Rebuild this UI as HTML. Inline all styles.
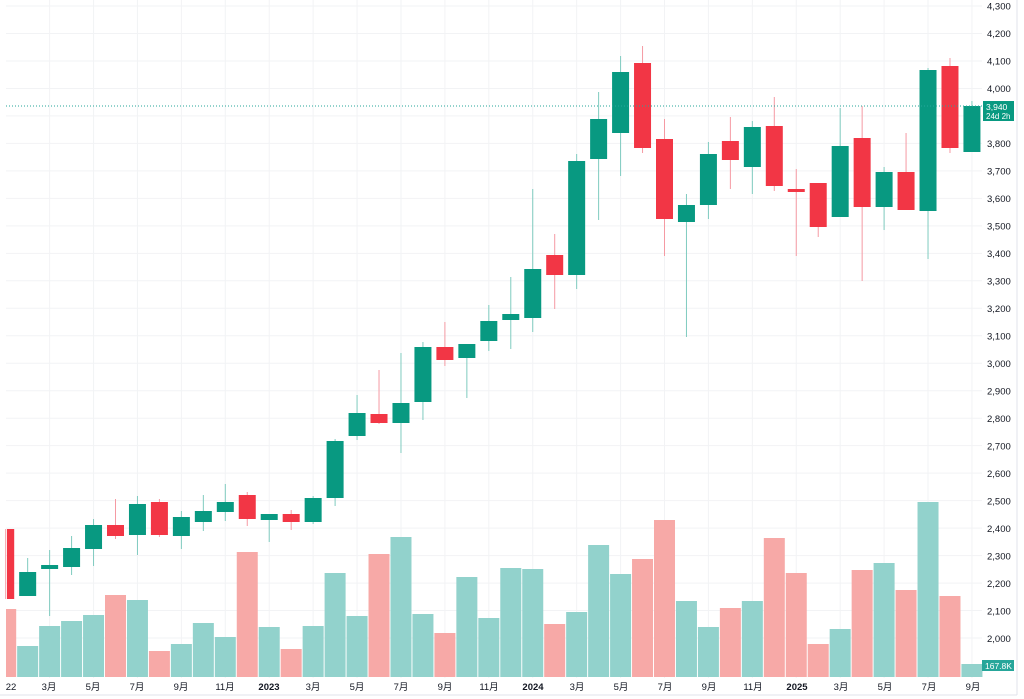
<!DOCTYPE html>
<html><head><meta charset="utf-8"><style>
html,body{margin:0;padding:0;background:#fff;width:1024px;height:699px;overflow:hidden}
svg{display:block;font-family:"Liberation Sans","Noto Sans CJK JP",sans-serif}
</style></head><body>
<svg id="s" width="1024" height="699" xmlns="http://www.w3.org/2000/svg">
<g id="grid"></g>
<g id="vol"></g>
<g id="cdl"></g>
<line x1="6" y1="106" x2="982" y2="106" stroke="#26a69a" stroke-width="1" stroke-dasharray="1,2"/>
<line x1="1017" y1="0" x2="1017" y2="695" stroke="#e0e3eb"/>
<line x1="0" y1="695" x2="1017" y2="695" stroke="#e0e3eb"/>
<g font-size="9.5" fill="#131722">
<text x="987" y="9.5">4,300</text><text x="987" y="37">4,200</text><text x="987" y="64.5">4,100</text><text x="987" y="92">4,000</text>
<text x="987" y="147">3,800</text><text x="987" y="174.5">3,700</text><text x="987" y="202">3,600</text><text x="987" y="229.5">3,500</text>
<text x="987" y="257">3,400</text><text x="987" y="284.5">3,300</text><text x="987" y="312">3,200</text><text x="987" y="339.5">3,100</text>
<text x="987" y="367">3,000</text><text x="987" y="394.5">2,900</text><text x="987" y="422">2,800</text><text x="987" y="449.5">2,700</text>
<text x="987" y="477">2,600</text><text x="987" y="504.5">2,500</text><text x="987" y="532">2,400</text><text x="987" y="559.5">2,300</text>
<text x="987" y="587">2,200</text><text x="987" y="614.5">2,100</text><text x="987" y="642">2,000</text>
</g>
<rect x="983" y="101" width="31" height="20" fill="#089981"/>
<text x="986" y="110" font-size="8.5" fill="#fff">3,940</text>
<text x="986" y="119" font-size="8" fill="#fff">24d 2h</text>
<rect x="982" y="660" width="32" height="11" fill="#26a69a"/>
<text x="985" y="669" font-size="8.5" fill="#fff">167.8K</text>
<g font-size="9.5" fill="#131722" text-anchor="middle">
<text x="11" y="690">22</text><text x="49" y="690">3月</text><text x="93" y="690">5月</text><text x="137" y="690">7月</text>
<text x="181" y="690">9月</text><text x="225" y="690">11月</text><text x="269" y="690" font-weight="bold">2023</text>
<text x="313" y="690">3月</text><text x="357" y="690">5月</text><text x="401" y="690">7月</text><text x="445" y="690">9月</text>
<text x="489" y="690">11月</text><text x="533" y="690" font-weight="bold">2024</text><text x="577" y="690">3月</text>
<text x="621" y="690">5月</text><text x="665" y="690">7月</text><text x="709" y="690">9月</text><text x="753" y="690">11月</text>
<text x="797" y="690" font-weight="bold">2025</text><text x="841" y="690">3月</text><text x="885" y="690">5月</text>
<text x="929" y="690">7月</text><text x="973" y="690">9月</text>
</g>
</svg>
<script>
var NS="http://www.w3.org/2000/svg";
function el(p,t,a){var e=document.createElementNS(NS,t);for(var k in a)e.setAttribute(k,a[k]);document.getElementById(p).appendChild(e);}
for(var p=4300;p>=2000;p-=100){var y=6+(4300-p)*0.2748;el("grid","line",{x1:6,x2:982,y1:y,y2:y,stroke:"#f2f3f5"});}
for(var i=2;i<=44;i+=2){var x=5.7+21.96*i;el("grid","line",{x1:x,x2:x,y1:0,y2:678,stroke:"#f2f3f5"});}
var C=[[529,599,529,599],[596,572,558,596],[569,565,550,616],[567,548,536,575],[549,525,519,566],[525,536,499,539],[535,504,496,555],[502,535,499,537],[536,517,511,549],[522,511,495,531],[512,502,484,521],[495,519,492,526],[520,514,514,542],[514,522,510,530],[522,498,496,524],[498,441,439,506],[436,413,395,440],[414,423,370,424],[423,403,353,453],[402,347,342,420],[347,360,322,366],[358,344,344,398],[341,321,305,351],[320,314,277,349],[318,269,189,332],[255,275,234,309],[275,161,154,289],[159,119,92,220],[133,72,56,176],[63,148,46,153],[139,219,119,256],[222,205,194,337],[205,154,142,219],[141,160,117,189],[167,127,121,194],[126,186,97,191],[189,192,169,256],[183,227,183,237],[217,146,108,217],[138,207,106,281],[207,172,167,230],[172,210,133,210],[211,70,68,259],[66,148,58,153],[152,106,101,152]];
var V=[609,646,626,621,615,595,600,651,644,623,637,552,627,649,626,573,616,554,537,614,633,577,618,568,569,624,612,545,574,559,520,601,627,608,601,538,573,644,629,570,563,590,502,596,664];
for(var i=0;i<C.length;i++){
 var x=5.7+21.96*i,c=C[i],up=c[1]<c[0],col=up?"#089981":"#f23645";
 var vc=up?"#92d2cc":"#f7a9a7";
 var vx=Math.max(6,x-10.5),vw=x+10.5-vx;
 el("vol","rect",{x:vx,y:V[i],width:vw,height:677-V[i],fill:vc});
 el("cdl","line",{x1:x,x2:x,y1:c[2],y2:c[3],stroke:up?"#7fcbbf":"#f59aa3","stroke-width":1});
 var t=Math.min(c[0],c[1]),h=Math.max(2,Math.abs(c[0]-c[1]));
 var bx=Math.max(7,x-8.5),bw=x+8.5-bx;
 el("cdl","rect",{x:bx,y:t,width:bw,height:h,fill:col});
}
</script>
</body></html>
